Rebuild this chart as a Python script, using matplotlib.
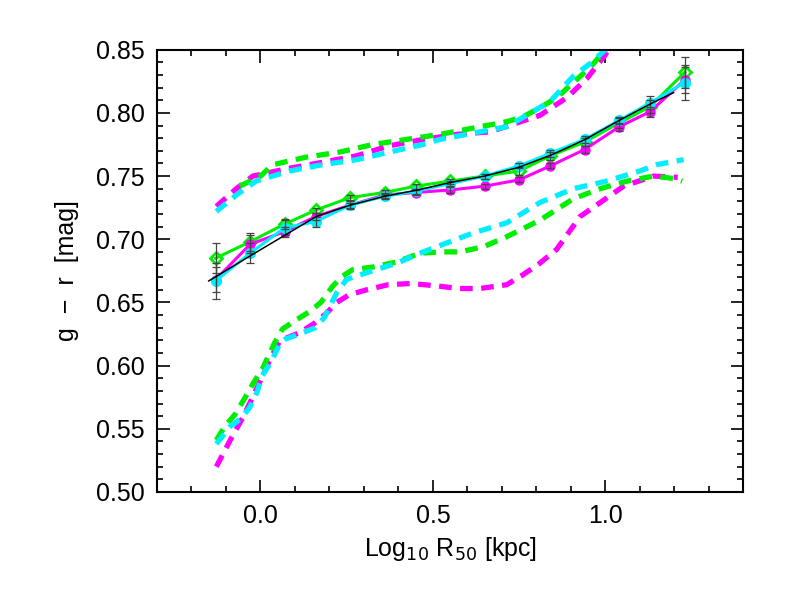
import numpy as np
import matplotlib
matplotlib.use('Agg')
import matplotlib.pyplot as plt
from matplotlib.ticker import MultipleLocator

plt.rcParams['font.family'] = ['Liberation Sans', 'DejaVu Sans']

# binned colour vs size, three samples
x_bins = [-0.13, -0.03, 0.07, 0.16, 0.26, 0.36, 0.45, 0.55, 0.65, 0.75, 0.84, 0.94, 1.04, 1.13, 1.23]
green_med = [0.685, 0.698, 0.712, 0.723, 0.733, 0.737, 0.742, 0.746, 0.750, 0.754, 0.766, 0.777, 0.792, 0.805, 0.832]
magenta_med = [0.668, 0.696, 0.706, 0.718, 0.727, 0.735, 0.737, 0.739, 0.742, 0.747, 0.758, 0.771, 0.789, 0.801, 0.826]
cyan_med = [0.667, 0.689, 0.709, 0.714, 0.727, 0.734, 0.738, 0.744, 0.750, 0.758, 0.768, 0.779, 0.794, 0.808, 0.824]
green_err = [0.012, 0.007, 0.004, 0.002, 0.002, 0.002, 0.002, 0.002, 0.002, 0.003, 0.003, 0.003, 0.004, 0.005, 0.012]
magenta_err = [0.010, 0.007, 0.004, 0.003, 0.002, 0.002, 0.002, 0.002, 0.002, 0.002, 0.002, 0.003, 0.003, 0.004, 0.010]
cyan_err = [0.014, 0.008, 0.006, 0.004, 0.003, 0.002, 0.002, 0.002, 0.002, 0.002, 0.003, 0.003, 0.003, 0.005, 0.014]

# fit line
fit_x = [-0.15, -0.035, 0.162, 0.26, 0.36, 0.456, 0.552, 0.65, 0.75, 0.846, 0.942, 1.04, 1.137, 1.198]
fit_y = [0.667, 0.686, 0.718, 0.727, 0.734, 0.739, 0.745, 0.750, 0.757, 0.767, 0.779, 0.794, 0.808, 0.816]

# upper envelopes (dashed)
up_mag_x = [-0.128, -0.07, -0.022, 0.08, 0.181, 0.278, 0.374, 0.471, 0.569, 0.665, 0.743, 0.81, 0.888, 0.946, 1.0, 1.03]
up_mag_y = [0.726, 0.740, 0.750, 0.756, 0.761, 0.766, 0.774, 0.779, 0.783, 0.785, 0.792, 0.798, 0.812, 0.827, 0.846, 0.86]
up_grn_x = [-0.06, 0.0, 0.036, 0.133, 0.23, 0.326, 0.423, 0.52, 0.617, 0.714, 0.762, 0.81, 0.859, 0.907, 0.956, 1.0, 1.03]
up_grn_y = [0.742, 0.750, 0.759, 0.765, 0.769, 0.775, 0.779, 0.783, 0.788, 0.793, 0.797, 0.804, 0.812, 0.824, 0.836, 0.850, 0.86]
up_cyn_x = [-0.128, -0.07, -0.013, 0.084, 0.18, 0.28, 0.374, 0.471, 0.52, 0.617, 0.714, 0.79, 0.84, 0.907, 0.956, 1.0, 1.03]
up_cyn_y = [0.722, 0.735, 0.746, 0.754, 0.759, 0.763, 0.769, 0.775, 0.779, 0.784, 0.789, 0.801, 0.809, 0.829, 0.839, 0.850, 0.86]

# lower envelopes (dashed)
lo_grn_x = [-0.128, -0.103, -0.072, -0.046, -0.021, 0.005, 0.041, 0.064, 0.103, 0.144, 0.175, 0.21, 0.239, 0.268, 0.326,
            0.395, 0.462, 0.530, 0.578, 0.646, 0.714, 0.81, 0.907, 0.985, 1.063, 1.14, 1.20, 1.223]
lo_grn_y = [0.541, 0.552, 0.562, 0.574, 0.586, 0.597, 0.618, 0.629, 0.636, 0.643, 0.650, 0.663, 0.671, 0.676, 0.678,
            0.682, 0.689, 0.690, 0.690, 0.694, 0.702, 0.715, 0.732, 0.740, 0.746, 0.750, 0.748, 0.746]
lo_cyn_x = [-0.128, -0.087, -0.057, -0.031, -0.01, 0.005, 0.031, 0.057, 0.072, 0.113, 0.159, 0.185, 0.22, 0.249, 0.268,
            0.336, 0.395, 0.472, 0.549, 0.617, 0.714, 0.81, 0.907, 1.004, 1.10, 1.149, 1.227]
lo_cyn_y = [0.538, 0.552, 0.558, 0.567, 0.579, 0.592, 0.603, 0.618, 0.621, 0.625, 0.630, 0.638, 0.657, 0.668, 0.670,
            0.676, 0.681, 0.690, 0.698, 0.705, 0.713, 0.729, 0.740, 0.746, 0.754, 0.759, 0.763]
lo_mag_x = [-0.128, -0.103, -0.082, -0.051, -0.021, 0.005, 0.026, 0.057, 0.077, 0.113, 0.154, 0.19, 0.221, 0.257, 0.308,
            0.37, 0.437, 0.514, 0.575, 0.636, 0.714, 0.762, 0.81, 0.859, 0.927, 0.985, 1.053, 1.14, 1.21]
lo_mag_y = [0.520, 0.533, 0.544, 0.559, 0.576, 0.591, 0.604, 0.620, 0.622, 0.626, 0.633, 0.641, 0.650, 0.656, 0.660,
            0.664, 0.665, 0.663, 0.661, 0.661, 0.664, 0.672, 0.681, 0.692, 0.718, 0.729, 0.742, 0.750, 0.749]

GREEN = '#00ee00'
MAGENTA = '#ff00ff'
CYAN = '#00eeff'

fig = plt.figure(figsize=(7.89, 5.92), dpi=100)
ax = fig.add_axes([0.199, 0.169, 0.743, 0.747])

dash = dict(lw=3.8, dashes=(2.4, 1.6), dash_capstyle='butt')
ax.plot(up_mag_x, up_mag_y, color=MAGENTA, **dash)
ax.plot(up_grn_x, up_grn_y, color=GREEN, **dash)
ax.plot(up_cyn_x, up_cyn_y, color=CYAN, **dash)
ax.plot(lo_mag_x, lo_mag_y, color=MAGENTA, **dash)
ax.plot(lo_grn_x, lo_grn_y, color=GREEN, **dash)
ax.plot(lo_cyn_x, lo_cyn_y, color=CYAN, **dash)

ax.plot(x_bins, green_med, color=GREEN, lw=2.2, marker='D', ms=6, mfc='none', mec=GREEN, mew=2)
ax.plot(x_bins, magenta_med, color=MAGENTA, lw=2.2, marker='o', ms=6.5, mfc=MAGENTA, mec=MAGENTA)
ax.plot(x_bins, cyan_med, color=CYAN, lw=2.2, marker='o', ms=7, mfc=CYAN, mec=CYAN)

for med, err in [(green_med, green_err), (magenta_med, magenta_err), (cyan_med, cyan_err)]:
    ax.errorbar(x_bins, med, yerr=err, fmt='none', ecolor='#444444', elinewidth=0.9, capsize=3, capthick=0.9)

ax.plot(fit_x, fit_y, color='black', lw=1.1)

ax.set_xlim(-0.3, 1.4)
ax.set_ylim(0.50, 0.85)
ax.set_xticks([0.0, 0.5, 1.0])
ax.set_xticklabels(['0.0', '0.5', '1.0'])
ax.set_yticks([0.50, 0.55, 0.60, 0.65, 0.70, 0.75, 0.80, 0.85])
ax.xaxis.set_minor_locator(MultipleLocator(0.1))
ax.yaxis.set_minor_locator(MultipleLocator(0.01))
ax.tick_params(which='both', direction='in', top=True, right=True, width=1.2, labelsize=18, pad=9)
ax.tick_params(which='major', length=9)
ax.tick_params(which='minor', length=4.5)
for s in ax.spines.values():
    s.set_linewidth(1.5)

ax.set_xlabel('Log$_{10}$ R$_{50}$ [kpc]', fontsize=18, labelpad=5)
ax.set_ylabel('g  −  r  [mag]', fontsize=18, labelpad=12)

fig.savefig('out.png', dpi=100)
